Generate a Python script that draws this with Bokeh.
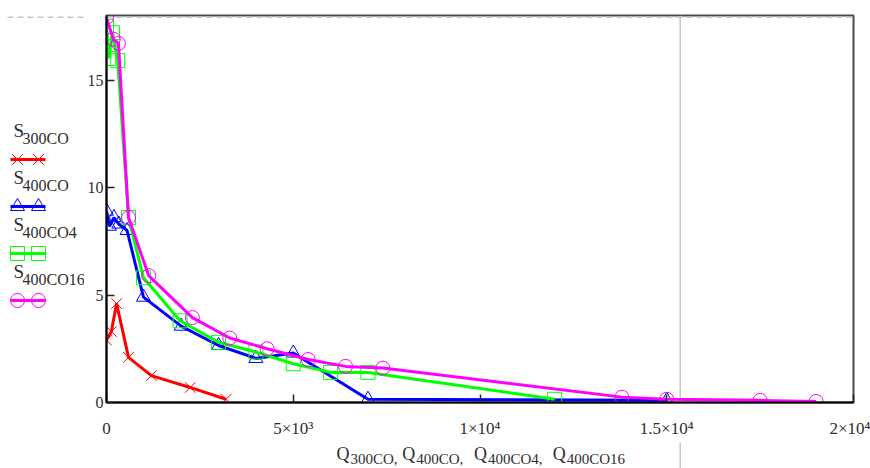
from bokeh.plotting import figure
from bokeh.layouts import gridplot
from bokeh.models import Range1d, FixedTicker, Span
from bokeh.core.properties import value
from bokeh.embed import file_html
from bokeh.resources import INLINE

# ---------------- data ----------------
Q_300CO = [0, 130, 270, 590, 1200, 2240, 3200]
S_300CO = [2.9, 3.3, 4.6, 2.1, 1.25, 0.7, 0.15]

Q_400CO = [0, 80, 200, 330, 550, 990, 2000, 3000, 4000, 5000, 7000, 15000]
S_400CO = [8.9, 8.2, 8.6, 8.3, 8.0, 4.9, 3.55, 2.65, 2.05, 2.3, 0.15, 0.1]

Q_400CO4 = [0, 60, 160, 300, 590, 990, 1970, 3000, 4000, 5000, 6000, 7000, 12000]
S_400CO4 = [17.5, 16.0, 17.2, 15.9, 8.6, 5.8, 3.8, 2.8, 2.35, 1.8, 1.4, 1.4, 0.15]

Q_400CO16 = [0, 180, 320, 590, 1130, 2300, 3300, 4300, 5400, 6400, 7400, 13800, 15000, 17500, 19000]
S_400CO16 = [17.9, 16.9, 16.7, 8.6, 5.9, 3.95, 3.0, 2.5, 2.0, 1.68, 1.6, 0.25, 0.15, 0.1, 0.05]

series_names = ["300CO", "400CO", "400CO4", "400CO16"]
series_q = [Q_300CO, Q_400CO, Q_400CO4, Q_400CO16]
series_s = [S_300CO, S_400CO, S_400CO4, S_400CO16]
series_colors = ["#ff0000", "#0000ff", "#00ff00", "#ff00ff"]
series_markers = ["x", "triangle", "square", "circle"]
marker_sizes = [15, 14, 14, 14]

x_ticks = [0, 5000, 10000, 15000, 20000]
x_tick_labels = ["0", "5×10³", "1×10⁴", "1.5×10⁴", "2×10⁴"]
y_ticks = [0, 5, 10, 15]
x_range = (0, 20000)
y_range = (0, 18)
cursor_x = 15360      # vertical cursor line
cursor_y = 17.92      # horizontal cursor line

# ---------------- layout ----------------
W, H = 870, 468
LEG_W = 84
XLAB_H = 26
FL, FR, FT, FB = 103, 853, 15, 402   # frame edges on the canvas
BOT = 40                              # border below the frame (tick labels)
SERIF = "Liberation Serif"
TXT = "#2e2e2e"
GRAY = "#c6c6c6"

main = figure(width=W - LEG_W, height=H - XLAB_H,
              x_range=Range1d(*x_range), y_range=Range1d(*y_range),
              output_backend="svg", toolbar_location=None,
              min_border_left=FL - LEG_W, min_border_right=W - FR,
              min_border_top=FT, min_border_bottom=BOT)
main.grid.visible = False
main.outline_line_color = "#4a4a4a"
main.outline_line_width = 2

main.xaxis.ticker = FixedTicker(ticks=x_ticks, minor_ticks=[])
main.xaxis.major_label_overrides = {t: l for t, l in zip(x_ticks, x_tick_labels)}
main.yaxis.ticker = FixedTicker(ticks=y_ticks, minor_ticks=[])
for ax in (main.xaxis[0], main.yaxis[0]):
    ax.major_tick_in = 8
    ax.major_tick_out = 0
    ax.minor_tick_in = 0
    ax.minor_tick_out = 0
    ax.major_tick_line_color = "#222222"
    ax.major_tick_line_width = 1.5
    ax.axis_line_color = "black"
    ax.axis_line_width = 2
    ax.major_label_text_font = SERIF
    ax.major_label_text_color = TXT
main.xaxis.major_label_text_font_size = "17px"
main.yaxis.major_label_text_font_size = "16px"
main.xaxis.major_label_standoff = 16
main.yaxis.major_label_standoff = 3

main.add_layout(Span(location=cursor_x, dimension="height", line_color=GRAY,
                     line_width=1.5, level="underlay"))
main.add_layout(Span(location=cursor_y, dimension="width", line_color=GRAY,
                     line_width=1.5, line_dash="6 4", level="underlay"))

for q, s, c, m, sz in zip(series_q, series_s, series_colors, series_markers, marker_sizes):
    main.line(q, s, line_color=c, line_width=3)
    main.scatter(q, s, marker=m, size=sz, fill_color=None, line_color=c, line_width=1)

# ---------------- legend panel (canvas-pixel coordinates) ----------------
leg = figure(width=LEG_W, height=H - XLAB_H,
             x_range=Range1d(0, LEG_W), y_range=Range1d(FB, FT),
             output_backend="svg", toolbar_location=None,
             min_border_left=0, min_border_right=0,
             min_border_top=FT, min_border_bottom=BOT,
             x_axis_type=None, y_axis_type=None)
leg.grid.visible = False
leg.outline_line_color = None
leg.line([7, LEG_W], [16.7, 16.7], line_color=GRAY, line_width=1.5, line_dash="6 4")
for i, (name, c, m, sz) in enumerate(zip(series_names, series_colors, series_markers, marker_sizes)):
    yl = 159 + 47 * i
    leg.line([10, 45], [yl, yl], line_color=c, line_width=3)
    leg.scatter([17, 38], [yl, yl], marker=m, size=sz, fill_color=None, line_color=c, line_width=1)
    leg.text([13], [yl - 29], text=["S"], text_font=value(SERIF), text_font_size="19px",
             text_color=TXT, text_baseline="alphabetic")
    leg.text([22], [yl - 21], text=[name], text_font=value(SERIF), text_font_size="16px",
             text_color=TXT, text_baseline="alphabetic")

# ---------------- x-axis title panel ----------------
xlab = figure(width=W - LEG_W, height=XLAB_H,
              x_range=main.x_range, y_range=Range1d(H, H - XLAB_H),
              output_backend="svg", toolbar_location=None,
              min_border_left=FL - LEG_W, min_border_right=W - FR,
              min_border_top=0, min_border_bottom=0,
              x_axis_type=None, y_axis_type=None)
xlab.grid.visible = False
xlab.outline_line_color = None
xlab.add_layout(Span(location=cursor_x, dimension="height", line_color=GRAY,
                     line_width=1.5, level="underlay"))


def px_to_x(cx):
    return x_range[0] + (cx - FL) / (FR - FL) * (x_range[1] - x_range[0])


q_pos = [334, 400, 472, 551]
xlab.text([px_to_x(v) for v in q_pos], [453] * 4, text=["Q"] * 4,
          text_font=value(SERIF), text_font_size="18px", text_color=TXT,
          text_baseline="alphabetic")
subs = [n + ("," if i < len(series_names) - 1 else "") for i, n in enumerate(series_names)]
xlab.text([px_to_x(v + 14) for v in q_pos], [458] * 4, text=subs,
          text_font=value(SERIF), text_font_size="15px", text_color=TXT,
          text_baseline="alphabetic")

grid = gridplot([[leg, main], [None, xlab]], toolbar_location=None)
open("out.html", "w").write(file_html(grid, INLINE))
